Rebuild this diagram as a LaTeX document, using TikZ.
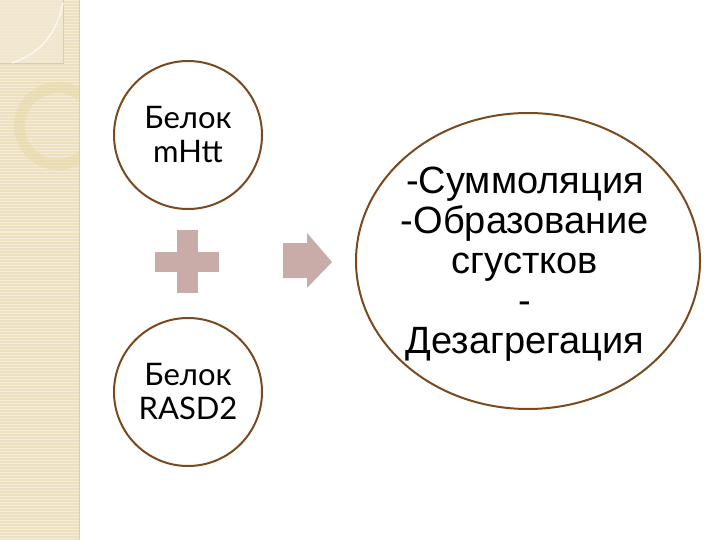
\documentclass[tikz,border=0pt]{standalone}
\usepackage{fontspec}
\setmainfont{Liberation Sans}
\newfontfamily\gillfont{Lato}
\usetikzlibrary{shapes.geometric}
\definecolor{strip}{HTML}{EDE0C0}
\definecolor{stripline}{HTML}{F5EDD9}
\definecolor{stripsq}{HTML}{F2E8D2}
\definecolor{stripedge}{HTML}{DCCDAA}
\definecolor{ringcol}{HTML}{E6D9A8}
\definecolor{brownline}{HTML}{7A4A1E}
\definecolor{pluscol}{HTML}{C9ACA8}
\tikzset{
  circ/.style={circle, draw=brownline, line width=2pt, minimum size=148pt, inner sep=0pt, align=center, fill=white,
    font=\gillfont\fontsize{31}{34}\selectfont},
  bigell/.style={ellipse, draw=brownline, line width=2pt, minimum width=344pt, minimum height=296pt, inner sep=0pt, fill=white},
  elltext/.style={align=center, inner sep=0pt, font=\fontsize{38}{40}\selectfont},
  shapefill/.style={fill=pluscol}
}
\begin{document}
\begin{tikzpicture}[x=1pt,y=-1pt]
\useasboundingbox (0,0) rectangle (720,540);
\fill[white] (0,0) rectangle (720,540);
% left decorative strip
\fill[strip] (0,0) rectangle (79,540);
\foreach \y in {1,4,...,540} \draw[stripline, line width=1pt] (0,\y) -- (79,\y);
\fill[stripsq, opacity=0.8] (0,0) rectangle (63,63);
\draw[stripedge, line width=0.8pt] (63,0) -- (63,63) -- (0,63);
\draw[white, opacity=0.7, line width=1.5pt] (63,3) .. controls (55,40) and (35,55) .. (12,63);
\begin{scope}
  \clip (0,0) rectangle (79,540);
  \fill[ringcol, opacity=0.55, even odd rule] (58,126) circle (44) (58,126) circle (33);
\end{scope}
\draw[stripedge, line width=0.6pt] (79,0) -- (79,540);
% circles
\node[circ] (mhtt) at (188,135) {Белок\\mHtt};
\node[circ] (rasd) at (188,392) {Белок\\RASD2};
% plus
\fill[shapefill] (155,252) rectangle (219,272);
\fill[shapefill] (177,230) rectangle (198,293);
% arrow
\fill[shapefill] (283,243) -- (307,243) -- (307,233) -- (332,262) -- (307,288) -- (307,278) -- (283,278) -- cycle;
% result ellipse
\node[bigell] (res) at (528,261) {};
\node[elltext] (restext) at (525,264) {-Суммоляция\\-Образование\\сгустков\\-\\Дезагрегация};
\end{tikzpicture}
\end{document}
